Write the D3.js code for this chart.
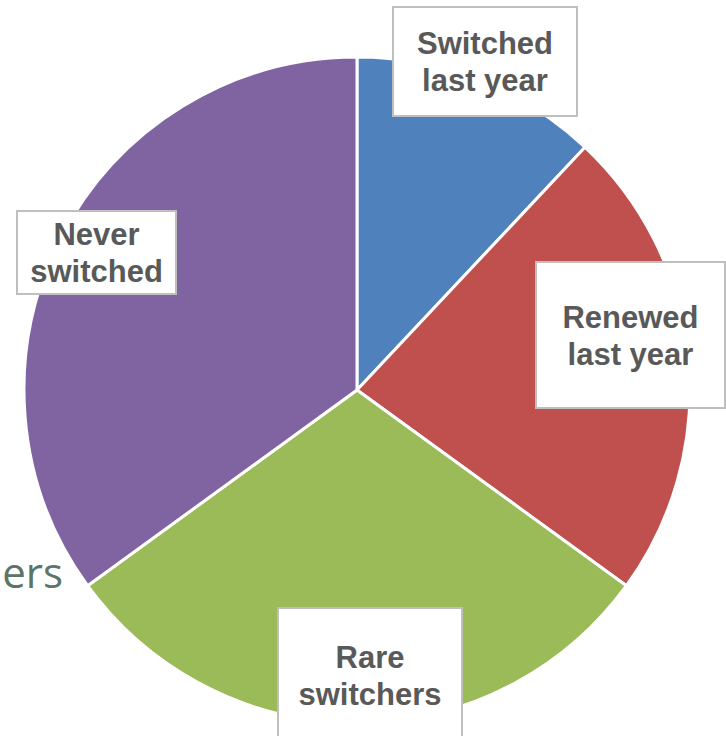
<!DOCTYPE html>
<html>
<head>
<meta charset="utf-8">
<script src="https://cdn.jsdelivr.net/npm/d3@7"></script>
<style>
  html, body { margin: 0; padding: 0; background: #fff; overflow: hidden; }
  svg { display: block; }
</style>
</head>
<body>
<div id="chart"></div>
<script>
// data
const categories = ["Switched last year", "Renewed last year", "Rare switchers", "Never switched"];
const labelLines = [["Switched", "last year"], ["Renewed", "last year"], ["Rare", "switchers"], ["Never", "switched"]];
const values = [12, 23, 30, 35];
const colours = ["#4f81bd", "#c0504d", "#9bbb59", "#8064a2"];

// label boxes (x, y, w, h) - placed by hand like the original
const labelBoxes = [
  [393, 7, 184, 109],
  [536, 262, 189, 146],
  [278, 608, 184, 134],
  [17, 211, 159, 83]
];

const width = 726, height = 736;
const cx = 357, cy = 390, radius = 333;

const svg = d3.select("#chart")
  .append("svg")
  .attr("width", width)
  .attr("height", height);

// visible tail of a title that sits behind the pie / off the left edge
svg.append("text")
  .attr("x", 63)
  .attr("y", 588)
  .attr("text-anchor", "end")
  .style("font-family", "'Open Sans', sans-serif")
  .style("font-weight", 400)
  .style("font-size", "42px")
  .attr("fill", "#5b7667")
  .text("ers");

const pie = d3.pie().sort(null).value(d => d)(values);
const arc = d3.arc().innerRadius(0).outerRadius(radius);

const g = svg.append("g").attr("transform", `translate(${cx},${cy})`);

g.selectAll("path")
  .data(pie)
  .join("path")
  .attr("d", arc)
  .attr("fill", (d, i) => colours[i])
  .attr("stroke", "#fff")
  .attr("stroke-width", 3)
  .attr("stroke-linejoin", "round");

// data labels
const label = svg.append("g")
  .selectAll("g")
  .data(categories)
  .join("g");

label.append("rect")
  .attr("x", (d, i) => labelBoxes[i][0])
  .attr("y", (d, i) => labelBoxes[i][1])
  .attr("width", (d, i) => labelBoxes[i][2])
  .attr("height", (d, i) => labelBoxes[i][3])
  .attr("fill", "#fff")
  .attr("stroke", "#bfbfbf")
  .attr("stroke-width", 2);

label.append("text")
  .attr("text-anchor", "middle")
  .style("font-family", "'Liberation Sans', Arial, sans-serif")
  .style("font-weight", "bold")
  .style("font-size", "31px")
  .attr("fill", "#595959")
  .each(function (d, i) {
    const b = labelBoxes[i];
    const mx = b[0] + b[2] / 2;
    const my = b[1] + b[3] / 2;
    const lines = labelLines[i];
    d3.select(this).selectAll("tspan")
      .data(lines)
      .join("tspan")
      .attr("x", mx)
      .attr("y", (t, j) => my + (j - (lines.length - 1) / 2) * 37 + 11);
  })
  .selectAll("tspan")
  .text(t => t);
</script>
</body>
</html>
